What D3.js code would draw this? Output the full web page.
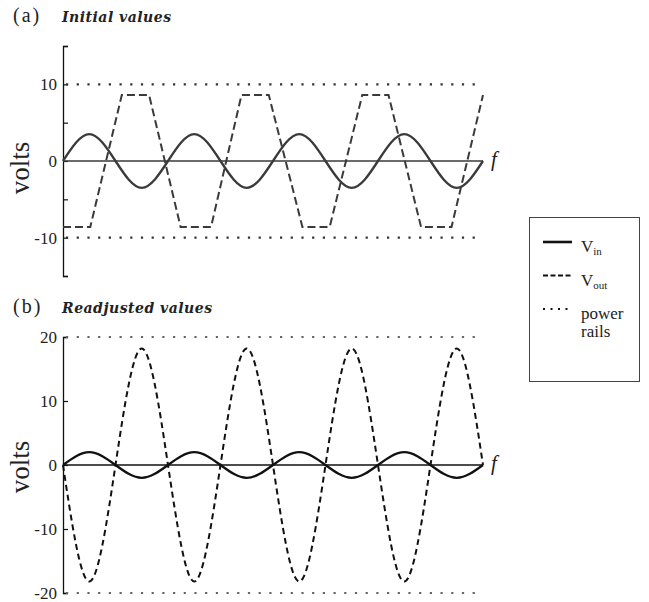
<!DOCTYPE html>
<html>
<head>
<meta charset="utf-8">
<script src="https://cdn.jsdelivr.net/npm/d3@7"></script>
<style>
  body { margin: 0; background: #fff; }
  svg { display: block; }
  .roman { font-family: 'Liberation Serif', 'Times New Roman', serif; }
  .title { font-family: 'DejaVu Serif', serif; font-weight: bold; font-style: italic; }
</style>
</head>
<body>
<svg width="649" height="602"></svg>
<script>
// time in units of the input period (4 periods across the plot)
const tQuarter = [0, 0.25, 0.5, 0.75, 1, 1.25, 1.5, 1.75, 2, 2.25, 2.5, 2.75, 3, 3.25, 3.5, 3.75, 4];

// (a) initial values
const vinA = [0, 3.5, 0, -3.5, 0, 3.5, 0, -3.5, 0, 3.5, 0, -3.5, 0, 3.5, 0, -3.5, 0];
const tVoutA = [0, 0.26, 0.56, 0.82, 1.12, 1.41, 1.70, 1.96, 2.28, 2.54, 2.85, 3.10, 3.41, 3.70, 4.0];
const voutA = [-8.6, -8.6, 8.6, 8.6, -8.6, -8.6, 8.6, 8.6, -8.6, -8.6, 8.6, 8.6, -8.6, -8.6, 8.6];
const railsA = [10, -10];
const ticksA = [-15, -10, -5, 0, 5, 10, 15];
const labelsA = [-10, 0, 10];

// (b) readjusted values
const vinB = [0, 2, 0, -2, 0, 2, 0, -2, 0, 2, 0, -2, 0, 2, 0, -2, 0];
const voutB = [0, -18.2, 0, 18.2, 0, -18.2, 0, 18.2, 0, -18.2, 0, 18.2, 0, -18.2, 0, 18.2, 0];
const railsB = [20, -20];
const ticksB = [-20, -10, 0, 10, 20];
const labelsB = [-20, -10, 0, 10, 20];

const legendItems = [
	{ label: 'V', sub: 'in', dash: null, width: 2.6 },
	{ label: 'V', sub: 'out', dash: '5,2.5', width: 2 },
	{ label: 'power', sub: null, dash: '2,5.5', width: 2 },
];

const svg = d3.select('svg');
const x = d3.scaleLinear().domain([0, 4]).range([63, 483]);

function panel(opt) {
	const y = d3.scaleLinear().domain(opt.domain).range(opt.range);
	const g = svg.append('g');

	// y axis, ticks pointing inward
	const axis = d3.axisLeft(y)
		.tickValues(opt.ticks)
		.tickSizeInner(-5)
		.tickSizeOuter(-5)
		.tickPadding(6)
		.tickFormat((d) => (opt.labels.includes(d) ? String(d) : ''));
	const ax = g.append('g')
		.attr('transform', `translate(${x(0)},0)`)
		.call(axis);
	ax.select('.domain').attr('stroke', '#111').attr('stroke-width', 1.3);
	ax.selectAll('.tick line').attr('stroke', '#111').attr('stroke-width', 1.2);
	ax.selectAll('.tick text')
		.attr('class', 'roman')
		.attr('font-size', 17)
		.attr('fill', '#222');

	g.append('text')
		.attr('class', 'roman')
		.attr('transform', `translate(29,${opt.voltsY}) rotate(-90)`)
		.attr('text-anchor', 'middle')
		.attr('font-size', 27)
		.attr('fill', '#222')
		.text('volts');

	// power rails
	g.selectAll('line.rail')
		.data(opt.rails)
		.enter()
		.append('line')
		.attr('class', 'rail')
		.attr('x1', x(0) + 3)
		.attr('x2', x(4))
		.attr('y1', (d) => y(d))
		.attr('y2', (d) => y(d))
		.attr('stroke', opt.railColor)
		.attr('stroke-width', 2.2)
		.attr('stroke-dasharray', '2.2,8.5');

	// zero line
	g.append('line')
		.attr('x1', x(0))
		.attr('x2', x(4))
		.attr('y1', y(0))
		.attr('y2', y(0))
		.attr('stroke', opt.color)
		.attr('stroke-width', 1.4);

	g.append('text')
		.attr('class', 'roman')
		.attr('x', x(4) + 8)
		.attr('y', y(0) + 5)
		.attr('font-style', 'italic')
		.attr('font-size', 21)
		.attr('fill', '#222')
		.text('f');

	const line = d3.line()
		.x((d) => x(d[0]))
		.y((d) => y(d[1]));

	// output
	g.append('path')
		.datum(d3.zip(opt.tOut, opt.vout))
		.attr('fill', 'none')
		.attr('stroke', opt.color)
		.attr('stroke-width', 2)
		.attr('stroke-dasharray', opt.dash)
		.attr('d', line.curve(opt.outCurve));

	// input
	g.append('path')
		.datum(d3.zip(tQuarter, opt.vin))
		.attr('fill', 'none')
		.attr('stroke', opt.color)
		.attr('stroke-width', 2.3)
		.attr('d', line.curve(d3.curveNatural));

	svg.append('text')
		.attr('class', 'roman')
		.attr('x', 13)
		.attr('y', opt.titleY)
		.attr('font-size', 20)
		.attr('letter-spacing', 2)
		.attr('fill', '#222')
		.text(opt.tag);
	svg.append('text')
		.attr('class', 'title')
		.attr('x', 62)
		.attr('y', opt.titleY)
		.attr('font-size', 14)
		.attr('letter-spacing', 0.5)
		.attr('fill', '#222')
		.text(opt.title);
}

panel({
	domain: [-15, 15], range: [276, 46], ticks: ticksA, labels: labelsA,
	rails: railsA, vin: vinA, tOut: tVoutA, vout: voutA, outCurve: d3.curveLinear,
	color: '#3a3a3a', railColor: '#333', dash: '8,4', voltsY: 168,
	tag: '(a)', title: 'Initial values', titleY: 22,
});

panel({
	domain: [-20, 20], range: [593, 337], ticks: ticksB, labels: labelsB,
	rails: railsB, vin: vinB, tOut: tQuarter, vout: voutB, outCurve: d3.curveNatural,
	color: '#111', railColor: '#666', dash: '6,4', voltsY: 467,
	tag: '(b)', title: 'Readjusted values', titleY: 313,
});

// legend
const lg = svg.append('g');
lg.append('rect')
	.attr('x', 529.5)
	.attr('y', 217.5)
	.attr('width', 110)
	.attr('height', 164)
	.attr('fill', '#fff')
	.attr('stroke', '#444')
	.attr('stroke-width', 1);

const item = lg.selectAll('g.item')
	.data(legendItems)
	.enter()
	.append('g')
	.attr('class', 'item')
	.attr('transform', (d, i) => `translate(0,${242 + i * 33.5})`);

item.append('line')
	.attr('x1', 543)
	.attr('x2', 572)
	.attr('stroke', '#111')
	.attr('stroke-width', (d) => d.width)
	.attr('stroke-dasharray', (d) => d.dash);

const txt = item.append('text')
	.attr('class', 'roman')
	.attr('x', 581)
	.attr('y', 10)
	.attr('font-size', 17)
	.attr('fill', '#222');
txt.append('tspan').text((d) => d.label);
txt.filter((d) => d.sub)
	.append('tspan')
	.attr('dy', 3)
	.attr('font-size', 11)
	.text((d) => d.sub);

lg.append('text')
	.attr('class', 'roman')
	.attr('x', 581)
	.attr('y', 337)
	.attr('font-size', 17)
	.attr('fill', '#222')
	.text('rails');
</script>
</body>
</html>
